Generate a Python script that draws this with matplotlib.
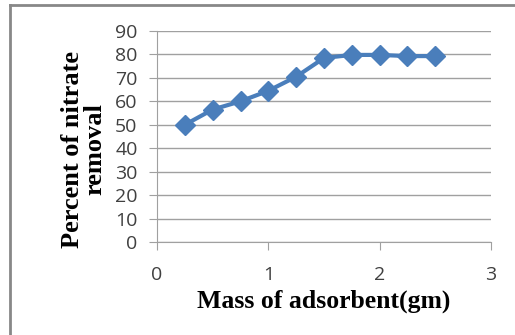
import matplotlib
matplotlib.use("Agg")
import matplotlib.pyplot as plt
from matplotlib.lines import Line2D

mass = [0.25, 0.5, 0.75, 1.0, 1.25, 1.5, 1.75, 2.0, 2.25, 2.5]
removal = [50, 56.5, 60, 64.5, 70.5, 78.5, 79.8, 79.8, 79.3, 79.3]
xticks = [0, 1, 2, 3]
yticks = list(range(0, 91, 10))

fig = plt.figure(figsize=(5.15, 3.35), dpi=100)
ax = fig.add_axes([157/515, 1-242/335, (491-157)/515, (242-31)/335])

ax.plot(mass, removal, color="#4a7ebb", lw=3, marker="D", markersize=10,
        markerfacecolor="#4a7ebb", markeredgecolor="#4a7ebb", zorder=3)

ax.set_xlim(0, 3)
ax.set_ylim(0, 90)
ax.set_xticks(xticks)
ax.set_yticks(yticks)
ax.grid(axis="y", color="#a0a0a0", lw=1)
for s in ["top", "right"]:
    ax.spines[s].set_visible(False)
for s in ["left", "bottom"]:
    ax.spines[s].set_color("#a0a0a0")
ax.tick_params(axis="both", colors="#a0a0a0", labelcolor="#404040",
               labelsize=14, length=6)
ax.tick_params(axis="x", pad=11)
ax.tick_params(axis="y", pad=8)
for lab in ax.get_xticklabels() + ax.get_yticklabels():
    lab.set_fontfamily("Open Sans")

ax.set_xlabel("Mass of adsorbent(gm)", fontfamily="Liberation Serif",
              fontweight="bold", fontsize=18.5, labelpad=4)
ax.set_ylabel("Percent of nitrate\nremoval", fontfamily="Liberation Serif",
              fontweight="bold", fontsize=19, linespacing=0.95)
ax.yaxis.set_label_coords(-0.153, 0.44)

fig.add_artist(Line2D([10/515, 10/515], [0, 1-5/335], transform=fig.transFigure,
                      color="#888888", lw=2))
fig.add_artist(Line2D([10/515, 1], [1-5/335, 1-5/335], transform=fig.transFigure,
                      color="#888888", lw=2))

fig.savefig("out.png", dpi=100)
